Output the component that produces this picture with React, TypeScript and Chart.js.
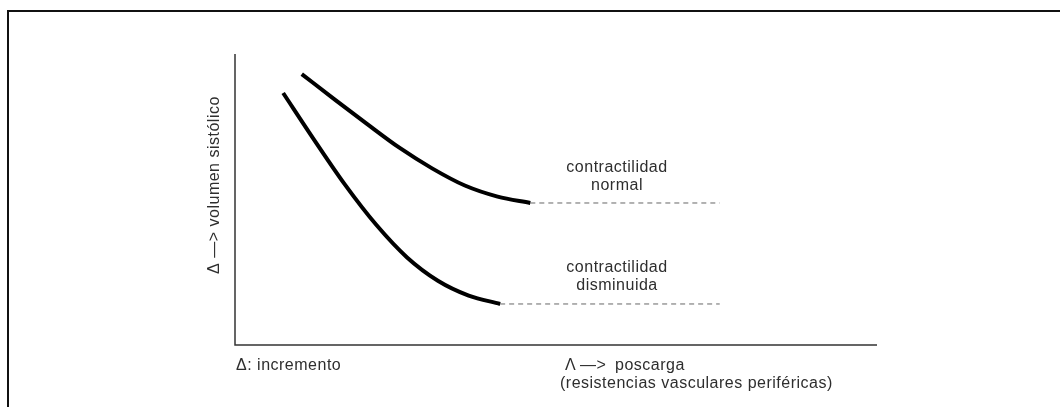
import React, { useEffect, useRef } from "react";
import { Chart, registerables } from "chart.js";

Chart.register(...registerables);

// Curve points (x: afterload units 0-100, y: stroke volume units 0-100)
const normalX = [10.4, 15.5, 20.6, 25.6, 30.7, 35.8, 40.9, 46.0];
const normalY = [93.1, 84.4, 75.9, 67.8, 60.7, 54.8, 51.0, 48.8];
const reducedX = [7.5, 12.3, 17.1, 22.0, 26.8, 31.6, 36.4, 41.3];
const reducedY = [86.6, 70.6, 55.2, 41.3, 30.1, 22.1, 17.0, 14.1];
const plateauEndX = 75.5;

const labelNormal = ["contractilidad", "normal"];
const labelReduced = ["contractilidad", "disminuida"];
const yTitle = "Δ —> volumen sistólico";
const xNote = "Δ: incremento";
const xTitleParts = ["Λ", "—>", "poscarga"];
const xTitleLine2 = "(resistencias vasculares periféricas)";

const toPts = (xs: number[], ys: number[]) => xs.map((x, i) => ({ x, y: ys[i] }));

export default function App() {
  const ref = useRef<HTMLCanvasElement>(null);
  useEffect(() => {
    document.body.style.margin = "0";
    const canvas = ref.current!;
    const lastN = normalY[normalY.length - 1];
    const lastR = reducedY[reducedY.length - 1];
    const decor = {
      id: "decor",
      afterDraw(chart: any) {
        const ctx = chart.ctx;
        const { left, right, top, bottom } = chart.chartArea;
        const xs = chart.scales.x;
        const ys = chart.scales.y;
        ctx.save();
        // outer frame (top and left)
        ctx.strokeStyle = "#111";
        ctx.lineWidth = 2;
        ctx.beginPath();
        ctx.moveTo(8, 407);
        ctx.lineTo(8, 11);
        ctx.lineTo(1060, 11);
        ctx.stroke();
        // axes
        ctx.strokeStyle = "#333";
        ctx.lineWidth = 1.5;
        ctx.beginPath();
        ctx.moveTo(left, top);
        ctx.lineTo(left, bottom);
        ctx.lineTo(right, bottom);
        ctx.stroke();
        // texts
        ctx.fillStyle = "#2e2e2e";
        ctx.font = "16px 'Liberation Sans', Arial, sans-serif";
        (ctx as any).letterSpacing = "0.5px";
        ctx.textAlign = "center";
        ctx.textBaseline = "middle";
        const cx = xs.getPixelForValue(59.5);
        ctx.fillText(labelNormal[0], cx, ys.getPixelForValue(lastN) - 35);
        ctx.fillText(labelNormal[1], cx, ys.getPixelForValue(lastN) - 17);
        ctx.fillText(labelReduced[0], cx, ys.getPixelForValue(lastR) - 36);
        ctx.fillText(labelReduced[1], cx, ys.getPixelForValue(lastR) - 18);
        ctx.textAlign = "left";
        ctx.fillText(xNote, left + 1, bottom + 21);
        ctx.fillText(xTitleParts[0], 565, bottom + 21);
        ctx.fillText(xTitleParts[1], 580, bottom + 21);
        ctx.fillText(xTitleParts[2], 615, bottom + 21);
        ctx.fillText(xTitleLine2, 560, bottom + 39);
        // y title rotated
        ctx.save();
        ctx.translate(left - 20, 185);
        ctx.rotate(-Math.PI / 2);
        ctx.textAlign = "center";
        ctx.fillText(yTitle, 0, 0);
        ctx.restore();
        ctx.restore();
      },
    };
    const chart = new Chart(canvas, {
      type: "scatter",
      data: {
        datasets: [
          {
            data: toPts(normalX, normalY),
            showLine: true,
            borderColor: "#000",
            borderWidth: 4,
            pointRadius: 0,
            cubicInterpolationMode: "monotone",
          },
          {
            data: toPts(reducedX, reducedY),
            showLine: true,
            borderColor: "#000",
            borderWidth: 4,
            pointRadius: 0,
            cubicInterpolationMode: "monotone",
          },
          {
            data: [
              { x: normalX[normalX.length - 1], y: lastN },
              { x: plateauEndX, y: lastN },
            ],
            showLine: true,
            borderColor: "#666",
            borderWidth: 1,
            borderDash: [5, 4],
            pointRadius: 0,
          },
          {
            data: [
              { x: reducedX[reducedX.length - 1], y: lastR },
              { x: plateauEndX, y: lastR },
            ],
            showLine: true,
            borderColor: "#666",
            borderWidth: 1,
            borderDash: [5, 4],
            pointRadius: 0,
          },
        ],
      },
      options: {
        animation: false,
        responsive: false,
        layout: { padding: { left: 235, right: 183, top: 54, bottom: 62 } },
        plugins: { legend: { display: false }, tooltip: { enabled: false } },
        scales: {
          x: { type: "linear", min: 0, max: 100, display: false },
          y: { type: "linear", min: 0, max: 100, display: false },
        },
      },
      plugins: [decor],
    } as any);
    return () => chart.destroy();
  }, []);
  return <canvas ref={ref} width={1060} height={407} style={{ display: "block" }} />;
}
